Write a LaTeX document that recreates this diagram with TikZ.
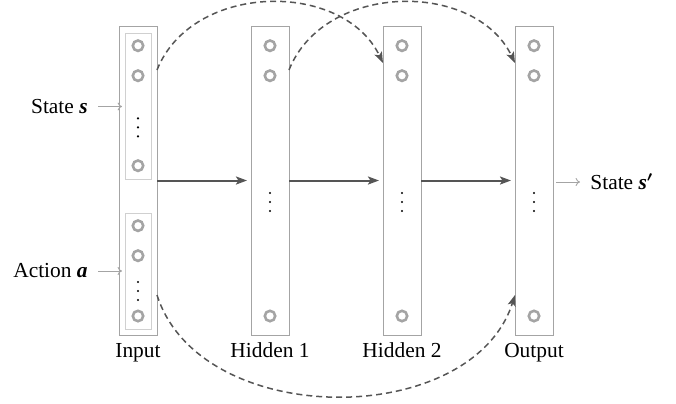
\documentclass[tikz,border=0pt]{standalone}
\usepackage{fontspec}
\setmainfont{Liberation Serif}
\usetikzlibrary{arrows.meta,calc}
\definecolor{boxgray}{HTML}{A4A4A4}
\definecolor{innergray}{HTML}{D0D0D0}
\definecolor{neurgray}{HTML}{A4A4A4}
\definecolor{arrowdark}{HTML}{555555}
\begin{document}
\begin{tikzpicture}[x=0.5pt,y=-0.5pt,
  layer/.style={draw=boxgray,line width=0.5pt,minimum width=19pt,minimum height=154.5pt,inner sep=0pt,outer sep=0pt},
  subbox/.style={draw=innergray,line width=0.5pt,minimum width=13pt,inner sep=0pt,outer sep=0pt},
  neuron/.style={circle,draw=neurgray,line width=1.3pt,minimum size=5.2pt,inner sep=0pt},
  mainarrow/.style={draw=arrowdark,line width=1pt,-{Stealth[length=5.5pt,width=4pt,inset=1.2pt]}},
  skiparrow/.style={draw=arrowdark,line width=0.75pt,dash pattern=on 3pt off 2pt,-{Stealth[length=5.5pt,width=4pt,inset=1.2pt]}},
  ioarrow/.style={draw=boxgray,line width=0.45pt,-{To[length=2.2pt,width=4pt]}},
  lbl/.style={inner sep=0pt,font=\fontsize{10.7pt}{12.8pt}\selectfont}
]
\useasboundingbox (0,0) rectangle (676,403);

% layers
\node[layer] (inp) at (138,180.5) {};
\node[layer] (h1) at (270,180.5) {};
\node[layer] (h2) at (402,180.5) {};
\node[layer] (outl) at (534,180.5) {};

% input sub boxes
\node[subbox,minimum height=73pt] (sbox) at (138,106) {};
\node[subbox,minimum height=58pt] (abox) at (138,271) {};

% neurons
\foreach \y/\n in {45.7/1,75.7/2,165.7/3,225.7/4,255.7/5,316/6}
  \node[neuron] (in\n) at (138,\y) {};
\foreach \x/\l in {270/a,402/b,534/c}
  \foreach \y/\n in {45.7/1,75.7/2,316/3}
    \node[neuron] (n\l\n) at (\x,\y) {};

% vertical dots
\foreach \x/\y in {138/127.3,138/291,270/202,402/202,534/202}
  \foreach \d in {-9,0,9}
    \fill (\x,\y+\d) circle (0.6pt);

% labels
\node[lbl,anchor=base] (linp) at ([yshift=-11pt]inp.south) {Input};
\node[lbl,anchor=base] (lh1) at ([yshift=-11pt]h1.south) {Hidden 1};
\node[lbl,anchor=base] (lh2) at ([yshift=-11pt]h2.south) {Hidden 2};
\node[lbl,anchor=base] (lout) at ([yshift=-11pt]outl.south) {Output};

\node[lbl,anchor=east] (sl) at (88,106.5) {State {\bfseries\itshape s}};
\node[lbl,anchor=east] (al) at (88,271) {Action {\bfseries\itshape a}};
\node[lbl,anchor=west] (ol) at (590,182) {State {\bfseries\itshape s}{\boldmath$'$}};

% input/output arrows
\draw[ioarrow] ([xshift=5pt]sl.east) -- ([xshift=-1.5pt]sbox.west |- sl.east);
\draw[ioarrow] ([xshift=5pt]al.east) -- ([xshift=-1.5pt]abox.west |- al.east);
\draw[ioarrow] ([xshift=1.5pt]outl.east |- ol.west) -- ([xshift=-5pt]ol.west);

% main arrows
\draw[mainarrow,shorten >=2pt] (inp.east) -- (h1.west);
\draw[mainarrow,shorten >=2pt] (h1.east) -- (h2.west);
\draw[mainarrow,shorten >=2pt] (h2.east) -- (outl.west);

% skip connections
\draw[skiparrow] ([yshift=-22pt]inp.north east) .. controls +(35,-88) and +(-40,-83) .. ([yshift=-18.5pt]h2.north west);
\draw[skiparrow] ([yshift=-22pt]h1.north east) .. controls +(35,-88) and +(-40,-83) .. ([yshift=-18.5pt]outl.north west);
\draw[skiparrow] ([yshift=20pt]inp.south east) .. controls +(43,135) and +(-43,135) .. ([yshift=20pt]outl.south west);
\end{tikzpicture}
\end{document}
